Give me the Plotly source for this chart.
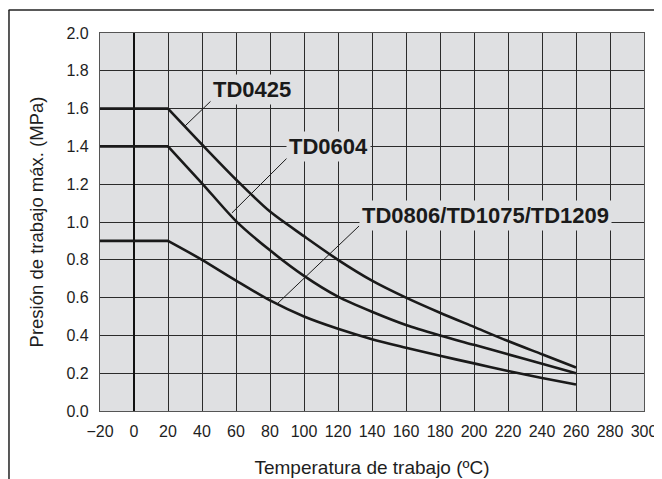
import plotly.graph_objects as go

# ---- data ----
temps = [-20, 20, 40, 60, 80, 100, 120, 140, 160, 180, 200, 220, 240, 260]
td0425 = [1.6, 1.6, 1.41, 1.225, 1.055, 0.925, 0.80, 0.69, 0.60, 0.52, 0.445, 0.37, 0.30, 0.23]
td0604 = [1.4, 1.4, 1.205, 1.005, 0.85, 0.715, 0.605, 0.525, 0.455, 0.40, 0.35, 0.30, 0.25, 0.20]
td0806 = [0.9, 0.9, 0.80, 0.69, 0.585, 0.50, 0.435, 0.38, 0.335, 0.292, 0.252, 0.212, 0.175, 0.14]

series_names = ["TD0425", "TD0604", "TD0806/TD1075/TD1209"]
label_pos = [(69.4, 1.70), (114.7, 1.397), (207.0, 1.032)]
leader_from = [(46.5, 1.651), (91.8, 1.354), (132.4, 0.979)]
leader_to = [(30.0, 1.508), (57.6, 1.048), (84.7, 0.571)]

x_ticks = list(range(-20, 301, 20))
y_ticks = [round(0.2 * i, 1) for i in range(11)]

BG = "#dfe0e2"
GRID = "#2b2b2b"
FONT = "Liberation Sans, Arial, sans-serif"
LINE = dict(color="#1a1a1a", width=2.6)

fig = go.Figure()
for name, vals in zip(series_names, [td0425, td0604, td0806]):
    # flat part (straight) and falling part (smooth curve)
    fig.add_trace(go.Scatter(x=temps[:2], y=vals[:2], mode="lines", name=name,
                             line=LINE, showlegend=False))
    fig.add_trace(go.Scatter(x=temps[1:], y=vals[1:], mode="lines", name=name,
                             line=dict(LINE, shape="spline", smoothing=0.8),
                             showlegend=False))

for (lx, ly), (fx, fy), (tx, ty), name in zip(label_pos, leader_from, leader_to, series_names):
    fig.add_shape(type="line", x0=fx, y0=fy, x1=tx, y1=ty, xref="x", yref="y",
                  line=dict(color="#1a1a1a", width=1))
    fig.add_annotation(x=lx, y=ly, xref="x", yref="y", text="<b>%s</b>" % name,
                       showarrow=False, bgcolor=BG, borderpad=2,
                       font=dict(family=FONT, size=22, color="#1a1a1a"))

# outer frame lines (top and left)
fig.add_shape(type="line", xref="paper", yref="paper", x0=-0.168, x1=1.05, y0=1.0608, y1=1.0608,
              line=dict(color="#222222", width=1.5))
fig.add_shape(type="line", xref="paper", yref="paper", x0=-0.1673, x1=-0.1673, y0=1.0608, y1=-0.2,
              line=dict(color="#222222", width=1.5))

fig.update_layout(
    width=654, height=471,
    margin=dict(l=92, r=18, t=25, b=68),
    paper_bgcolor="white",
    plot_bgcolor=BG,
    font=dict(family=FONT, color="#1e1e1e"),
    xaxis=dict(range=[-20, 300], tickvals=x_ticks, ticks="", automargin=False,
               showgrid=True, gridcolor=GRID, gridwidth=1.2,
               zeroline=True, zerolinecolor="#111111", zerolinewidth=2,
               showline=True, linecolor="#555555", linewidth=1.2, mirror=True,
               tickfont=dict(size=16), ticklabelstandoff=6,
               title=dict(text="Temperatura de trabajo (ºC)", font=dict(size=19), standoff=21)),
    yaxis=dict(range=[0, 2.0], tickvals=y_ticks, tickformat=".1f", ticks="", automargin=False,
               showgrid=True, gridcolor=GRID, gridwidth=1.2,
               zeroline=False,
               showline=True, linecolor="#555555", linewidth=1.2, mirror=True,
               tickfont=dict(size=16), ticklabelstandoff=7,
               title=dict(text="Presión de trabajo máx. (MPa)", font=dict(size=18.5), standoff=17)),
)

fig.write_html("out.html")
